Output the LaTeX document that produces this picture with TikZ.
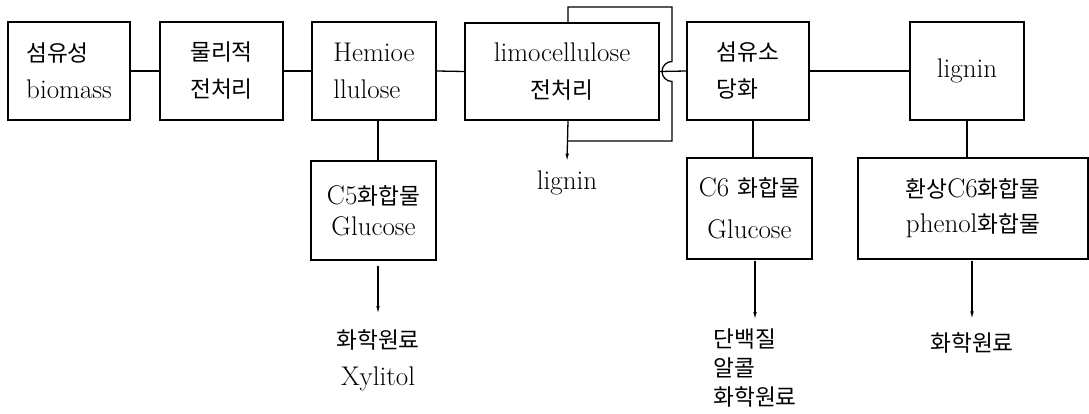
\documentclass[tikz,border=0pt]{standalone}
\usepackage{fontspec}
\usepackage{tikz}
\usetikzlibrary{calc}
\usetikzlibrary{arrows.meta}
\usetikzlibrary{positioning}
\newfontfamily\kr[Scale=0.84]{Noto Sans CJK KR}
\tikzset{
  procbox/.style={draw, line width=1.3pt, minimum width=122pt, minimum height=98pt,
                  inner sep=2pt, font=\fontsize{27}{37}\selectfont},
  outtext/.style={inner sep=1pt, font=\fontsize{27}{37}\selectfont},
  link/.style={line width=1.3pt},
  outarrow/.style={line width=1.3pt, -{Latex[length=8pt,width=3.5pt]}}
}

\begin{document}
\begin{tikzpicture}[x=1pt, y=-1pt]
            \useasboundingbox (0,0) rectangle (1089,414);
            % main row
            \node[procbox, align=left]                       (bio)  at ( 69.0, 71.0) {{\kr 섬유성}\\biomass};
            \node[procbox, align=center, minimum width=123pt] (phys) at (221.5, 71.0) {{\kr 물리적}\\{\kr 전처리}};
            \node[procbox, align=left,   minimum width=124pt] (hemi) at (374.0, 71.0) {Hemioe\\llulose};
            \node[procbox, align=center, minimum width=194pt, minimum height=97pt]
                                                                 (limo) at (562.0, 71.5) {limocellulose\\{\kr 전처리}};
            \node[procbox, align=left]                       (sacc) at (748.0, 71.0) {{\kr 섬유소}\\{\kr 당화}};
            \node[procbox, align=center, minimum width=114pt] (lig)  at (967.0, 71.0) {lignin};
            % compound row
            \node[procbox, align=center, minimum width=125pt, minimum height=99pt, font=\fontsize{27}{31}\selectfont]
                                                                 (cfive) at (373.5, 210.5) {C5{\kr 화합물}\\Glucose};
            \node[procbox, align=center, minimum width=125pt, minimum height=101pt, font=\fontsize{27}{42}\selectfont]
                                                                 (csix)  at (749.5, 208.5) {C6 {\kr 화합물}\\Glucose};
            \node[procbox, align=center, minimum width=230pt, minimum height=101pt, font=\fontsize{27}{35}\selectfont]
                                                                 (phen)  at (973.0, 208.5) {{\kr 환상}C6{\kr 화합물}\\phenol{\kr 화합물}};
            % products
            \node[outtext, align=center]                       (xyl)  at (378.0, 360.0) {{\kr 화학원료}\\Xylitol};
            \node[outtext, align=left, font=\fontsize{27}{29}\selectfont]
                                                                 (prot) at (755.0, 368.0) {{\kr 단백질}\\{\kr 알콜}\\{\kr 화학원료}};
            \node[outtext]                                     (chem) at (972.0, 343.0) {\kr 화학원료};
            \node[outtext]                                     (lgout) at (567.0, 183.0) {lignin};
            % lignin recycle loop
            \coordinate (ltl) at (568, 7);
            \coordinate (ltr) at (672, 7);
            \coordinate (lbr) at (672, 141);
            \coordinate (lbl) at (568, 141);

            \draw[link] (bio.east) -- (phys.west);
            \draw[link] (phys.east) -- (hemi.west);
            \draw[link] (hemi.east) -- (limo.west);
            \draw[link] (limo.east) -- (sacc.west);
            \draw[link] (sacc.east) -- (lig.west);
            \draw[link] (limo.north -| ltl) -- (ltl) -- (ltr)
                 -- ([yshift=10pt]ltr |- limo.east) arc (90:270:10pt) -- (lbr) -- (lbl);
            \draw[outarrow] (limo.south -| lbl) -- ([yshift=8pt]lgout.north);
            \draw[link] (hemi.south -| 378,0) -- (cfive.north -| 378,0);
            \draw[link] (sacc.south -| 753,0) -- (csix.north -| 753,0);
            \draw[link] (lig.south) -- (lig.south |- phen.north);
            \draw[outarrow] ([yshift=-5pt]xyl.north |- cfive.south) -- ([yshift=14pt]xyl.north);
            \draw[outarrow] ([yshift=-1pt]prot.north |- csix.south) -- (prot.north |- 0,320);
            \draw[outarrow] ([yshift=-1pt]chem.north |- phen.south) -- ([yshift=12pt]chem.north);
        \end{tikzpicture}
\end{document}
